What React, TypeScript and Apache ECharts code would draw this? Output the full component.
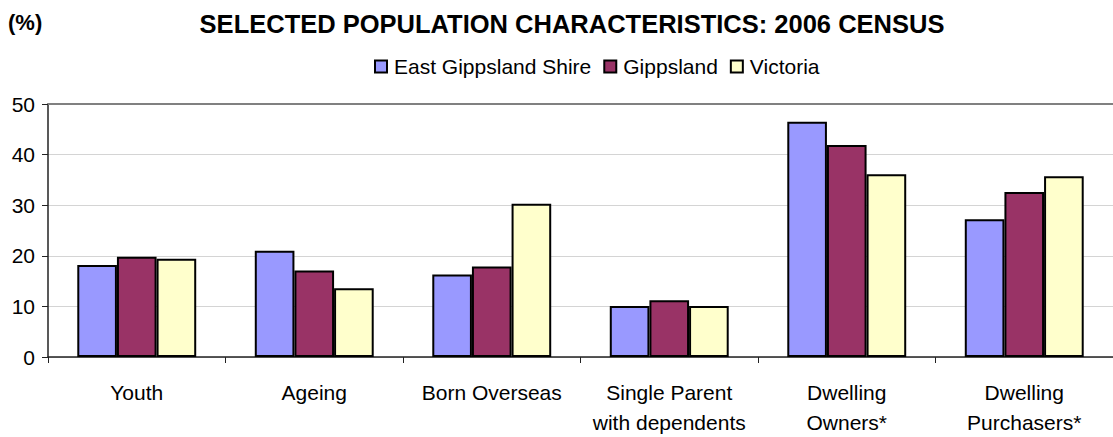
import React, { useEffect, useRef } from "react";
import * as echarts from "echarts";

const categories = [
  "Youth",
  "Ageing",
  "Born Overseas",
  "Single Parent\nwith dependents",
  "Dwelling\nOwners*",
  "Dwelling\nPurchasers*",
];
const seriesNames = ["East Gippsland Shire", "Gippsland", "Victoria"];
const eastGippsland = [18.2, 21.0, 16.3, 10.1, 46.5, 27.2];
const gippsland = [19.8, 17.1, 17.9, 11.2, 41.9, 32.6];
const victoria = [19.4, 13.6, 30.3, 10.1, 36.1, 35.7];
const colors = ["#9999FF", "#993366", "#FFFFCC"];
const yTicks = { min: 0, max: 50, interval: 10 };

const FONT = "'Liberation Sans', Arial, sans-serif";

export default function App() {
  const ref = useRef<HTMLDivElement>(null);
  useEffect(() => {
    if (!ref.current) return;
    const chart = echarts.init(ref.current, null, { renderer: "svg" });
    const values = [eastGippsland, gippsland, victoria];
    chart.setOption({
      animation: false,
      backgroundColor: "#ffffff",
      textStyle: { fontFamily: FONT },
      graphic: [
        {
          type: "text",
          x: 572,
          y: 24,
          style: {
            text: "SELECTED POPULATION CHARACTERISTICS: 2006 CENSUS",
            font: `bold 25.5px ${FONT}`,
            fill: "#000",
            textAlign: "center",
            textVerticalAlign: "middle",
          },
        },
        {
          type: "text",
          x: 8,
          y: 22,
          style: {
            text: "(%)",
            font: `bold 22px ${FONT}`,
            fill: "#000",
            textAlign: "left",
            textVerticalAlign: "middle",
          },
        },
      ],
      legend: {
        left: 369,
        top: 51,
        icon: "rect",
        itemWidth: 12,
        itemHeight: 12,
        itemGap: 12,
        data: seriesNames,
        textStyle: {
          fontSize: 21,
          color: "#000",
          fontFamily: FONT,
          padding: [0, 0, 0, 2],
        },
      },
      grid: { left: 48, right: -4, top: 104, bottom: 74, containLabel: false },
      xAxis: [
        {
          type: "category",
          data: categories,
          axisLine: { show: true, lineStyle: { color: "#222", width: 1.5 } },
          axisTick: { show: true, length: 6, lineStyle: { color: "#222" } },
          axisLabel: {
            color: "#000",
            fontSize: 21,
            fontFamily: FONT,
            lineHeight: 30,
            margin: 20,
            interval: 0,
          },
        },
        {
          type: "category",
          position: "top",
          data: categories,
          axisLine: { show: true, lineStyle: { color: "#808080", width: 2 } },
          axisTick: { show: false },
          axisLabel: { show: false },
        },
      ],
      yAxis: {
        type: "value",
        min: yTicks.min,
        max: yTicks.max,
        interval: yTicks.interval,
        axisLine: { show: true, lineStyle: { color: "#222", width: 1.5 } },
        axisTick: { show: true, length: 6, lineStyle: { color: "#222" } },
        axisLabel: { color: "#000", fontSize: 21, fontFamily: FONT, margin: 13 },
        splitLine: { show: true, lineStyle: { color: "#d4d4d4", width: 1 } },
      },
      series: seriesNames.map((name, i) => ({
        name,
        type: "bar",
        data: values[i],
        barGap: "0%",
        barCategoryGap: "33%",
        itemStyle: { color: colors[i], borderColor: "#000", borderWidth: 2 },
      })),
    });
    return () => chart.dispose();
  }, []);
  return (
    <div
      ref={ref}
      style={{ position: "fixed", left: 0, top: 0, width: 1113, height: 437 }}
    />
  );
}
